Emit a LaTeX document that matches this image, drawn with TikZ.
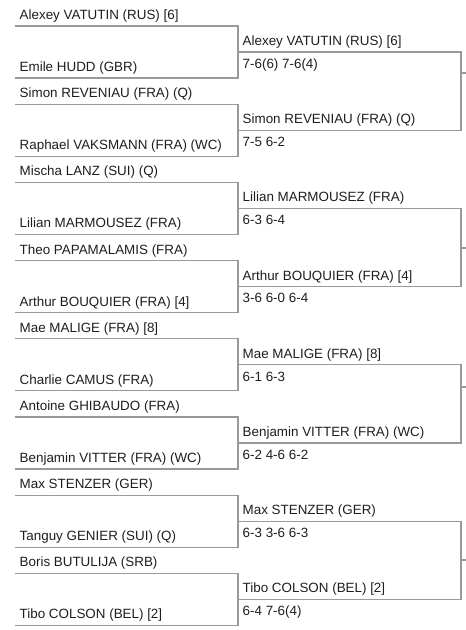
\documentclass[tikz,border=0pt]{standalone}
\usepackage{fontspec}
\setmainfont{Liberation Sans}
\definecolor{linegray}{HTML}{9A9A9A}
\definecolor{txt}{HTML}{1E1E1E}
\begin{document}
\begin{tikzpicture}[x=1pt,y=-1pt,
  bline/.style={draw=linegray,line width=1.1pt},
  pname/.style={anchor=base west,inner sep=0pt,text=txt,font=\fontsize{13.4}{16}\selectfont},
]
\useasboundingbox (0,0) rectangle (466,630);
% first round
\foreach \k/\a/\b in {
  0/{Alexey VATUTIN (RUS) [6]}/{Emile HUDD (GBR)},
  1/{Simon REVENIAU (FRA) (Q)}/{Raphael VAKSMANN (FRA) (WC)},
  2/{Mischa LANZ (SUI) (Q)}/{Lilian MARMOUSEZ (FRA)},
  3/{Theo PAPAMALAMIS (FRA)}/{Arthur BOUQUIER (FRA) [4]},
  4/{Mae MALIGE (FRA) [8]}/{Charlie CAMUS (FRA)},
  5/{Antoine GHIBAUDO (FRA)}/{Benjamin VITTER (FRA) (WC)},
  6/{Max STENZER (GER)}/{Tanguy GENIER (SUI) (Q)},
  7/{Boris BUTULIJA (SRB)}/{Tibo COLSON (BEL) [2]}}{
  \pgfmathsetmacro\t{26+78.2*\k}
  \pgfmathsetmacro\bt{\t+52}
  \coordinate (ra\k) at (15,\t);
  \coordinate (rb\k) at (238,\t);
  \coordinate (rc\k) at (238,\bt);
  \coordinate (rd\k) at (15,\bt);
  \draw[bline] (ra\k) -- (rb\k) -- (rc\k) -- (rd\k);
  \node[pname] (pa\k) at (19.5,{\t-6.5}) {\a};
  \node[pname] (pb\k) at (19.5,{\bt-6.5}) {\b};
}
% second round
\foreach \j/\a/\sa/\b/\sb/\ty in {
  0/{Alexey VATUTIN (RUS) [6]}/{7-6(6) 7-6(4)}/{Simon REVENIAU (FRA) (Q)}/{7-5 6-2}/73,
  1/{Lilian MARMOUSEZ (FRA)}/{6-3 6-4}/{Arthur BOUQUIER (FRA) [4]}/{3-6 6-0 6-4}/248,
  2/{Mae MALIGE (FRA) [8]}/{6-1 6-3}/{Benjamin VITTER (FRA) (WC)}/{6-2 4-6 6-2}/387,
  3/{Max STENZER (GER)}/{6-3 3-6 6-3}/{Tibo COLSON (BEL) [2]}/{6-4 7-6(4)}/560}{
  \pgfmathsetmacro\t{52+156.4*\j}
  \pgfmathsetmacro\bt{\t+78.2}
  \coordinate (sa\j) at (238,\t);
  \coordinate (sb\j) at (461,\t);
  \coordinate (sc\j) at (461,\bt);
  \coordinate (sd\j) at (238,\bt);
  \coordinate (ta\j) at (461,\ty);
  \coordinate (tb\j) at (466,\ty);
  \draw[bline] (sa\j) -- (sb\j) -- (sc\j) -- (sd\j);
  \draw[bline] (ta\j) -- (tb\j);
  \node[pname] (wa\j) at (242.5,{\t-6.5}) {\a};
  \node[pname] (sca\j) at (242.5,{\t+16.3}) {\sa};
  \node[pname] (wb\j) at (242.5,{\bt-6.5}) {\b};
  \node[pname] (scb\j) at (242.5,{\bt+16.3}) {\sb};
}
\end{tikzpicture}
\end{document}
